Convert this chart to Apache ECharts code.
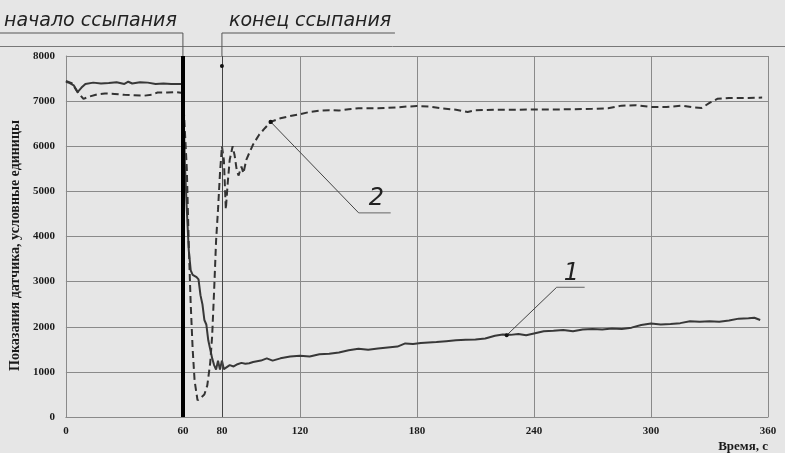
<!DOCTYPE html>
<html><head><meta charset="utf-8">
<script src="https://cdn.jsdelivr.net/npm/echarts@6/dist/echarts.min.js"></script>
<style>html,body{margin:0;padding:0;background:#e6e6e6;}#c{width:785px;height:453px;}</style>
</head><body><div id="c"></div>
<script>
// Time ticks on x axis
const xTicks = [0, 60, 80, 120, 180, 240, 300, 360];
// Curve 1 (solid)
const t1 = [0,2,4,6,8,10,14,18,22,26,30,32,34,38,42,46,50,54,58,60,61,62,63,64,65,66,67,68,69,70,71,72,73,74,75,76,77,78,79,80,81,82,84,86,88,90,92,94,96,100,103,106,110,115,120,125,130,135,140,145,150,155,160,165,170,174,178,182,186,190,195,200,205,210,215,220,224,228,232,236,240,245,250,255,260,265,270,275,280,285,290,295,300,305,310,315,320,325,330,335,340,345,350,353,356];
const v1 = [7430,7400,7350,7200,7300,7380,7410,7390,7400,7420,7380,7430,7390,7420,7410,7380,7390,7380,7380,7380,5600,4600,3700,3250,3150,3180,3100,3050,2700,2500,2150,2050,1700,1500,1300,1150,1050,1250,1050,1250,1060,1100,1150,1120,1170,1200,1180,1190,1220,1250,1300,1250,1300,1340,1360,1340,1390,1400,1430,1480,1510,1490,1520,1540,1560,1630,1620,1640,1650,1660,1680,1700,1710,1720,1740,1800,1830,1820,1840,1810,1850,1900,1910,1930,1900,1940,1950,1940,1960,1950,1980,2040,2070,2050,2060,2080,2120,2110,2120,2110,2140,2180,2190,2200,2150];
// Curve 2 (dashed)
const t2 = [0,3,6,9,12,16,20,25,30,35,40,44,47,52,56,60,61,62,63,64,65,66,67.5,69,71,72.5,74,75,76,77,78,79,80,81,82,83,84,85.5,86.5,87.5,88.5,90,91,92.5,94,96,99,102,105,110,115,120,125,130,135,140,145,150,160,170,175,180,186,193,200,206,210,220,230,240,250,260,270,278,285,292,300,308,316,322,326,330,334,340,350,357];
const v2 = [7450,7400,7200,7050,7100,7150,7170,7160,7140,7130,7120,7140,7190,7190,7200,7180,7150,5500,3800,2500,1500,800,370,420,500,700,1200,1800,2800,3900,4600,5400,6000,5700,4600,5200,5700,6000,5800,5500,5350,5550,5400,5700,5850,6040,6250,6400,6540,6620,6670,6710,6760,6790,6800,6790,6820,6840,6840,6860,6880,6890,6880,6840,6810,6760,6800,6810,6810,6815,6815,6820,6830,6840,6900,6910,6870,6870,6900,6860,6850,6960,7050,7070,7070,7080];
// Event markers
const startT = 60, endT = 80, endDot = 7780;
const pointer2 = [105, 6540], pointer1 = [226, 1811];
const startLabel = 'начало ссыпания', endLabel = 'конец ссыпания';
const yName = 'Показания датчика, условные единицы', xName = 'Время, с';

const chart = echarts.init(document.getElementById('c'), null, {renderer:'canvas'});
const grey = '#8a8a8a';
const lab = {fontFamily:'Liberation Serif', fontWeight:'bold', fontSize:11, color:'#1a1a1a', formatter:(v)=>String(v)};
chart.setOption({
  backgroundColor:'#e6e6e6',
  animation:false,
  grid:{left:64, right:17, top:56, bottom:36},
  xAxis:{type:'value', min:0, max:360, interval:60,
    axisLine:{lineStyle:{color:grey}}, axisTick:{show:false},
    axisLabel:Object.assign({margin:9, customValues:xTicks}, lab),
    splitLine:{lineStyle:{color:grey, width:1}}},
  yAxis:{type:'value', min:0, max:8000, interval:1000,
    axisLine:{show:true, lineStyle:{color:grey}}, axisTick:{show:false},
    axisLabel:Object.assign({margin:11}, lab),
    splitLine:{lineStyle:{color:grey, width:1}},
    name:yName, nameLocation:'middle', nameGap:41,
    nameTextStyle:{fontFamily:'Liberation Serif', fontWeight:'bold', fontSize:14, color:'#1a1a1a', padding:[0,0,0,-18]}},
  series:[
    {type:'line', data:t1.map((t,i)=>[t,v1[i]]), symbol:'none', lineStyle:{color:'#383838', width:2}, z:3,
     markLine:{silent:true, symbol:'none', label:{show:false},
       data:[[{coord:[startT,0], lineStyle:{color:'#000', width:4, type:'solid'}},{coord:[startT,8000]}],
             [{coord:[endT,0], lineStyle:{color:'#444', width:1, type:'solid'}},{coord:[endT,8000]}]]}},
    {type:'line', data:t2.map((t,i)=>[t,v2[i]]), symbol:'none', lineStyle:{color:'#333', width:2, type:[7,4]}, z:3}
  ]
});

const P = (p)=>chart.convertToPixel({gridIndex:0}, p);
const s0 = P([startT,8000]), e0 = P([endT,0]), eDot = P([endT,endDot]);
const p2 = P(pointer2), p1 = P(pointer1);
const topY = 33, sepY = 46.5;
const ln = (x1,y1,x2,y2,c,w)=>({type:'line', shape:{x1,y1,x2,y2}, style:{stroke:c||'#555', lineWidth:w||1}, silent:true, z:10});
const annoFont = {fontFamily:'DejaVu Sans', fontStyle:'italic', fontSize:19, fill:'#222'};
chart.setOption({graphic:[
  ln(0, sepY, 785, sepY, '#777', 1),
  ln(0, topY, s0[0], topY, '#555', 1),
  ln(s0[0], topY, s0[0], s0[1], '#555', 1),
  ln(e0[0], topY, e0[0]+173, topY, '#555', 1),
  ln(e0[0], topY, e0[0], s0[1], '#555', 1),
  {type:'circle', shape:{cx:eDot[0], cy:eDot[1], r:2}, style:{fill:'#111'}, z:11},
  {type:'text', x:4, y:topY-2, style:Object.assign({text:startLabel, textVerticalAlign:'bottom'}, annoFont), z:11},
  {type:'text', x:e0[0]+7, y:topY-2, style:Object.assign({text:endLabel, textVerticalAlign:'bottom'}, annoFont), z:11},
  {type:'circle', shape:{cx:p2[0], cy:p2[1], r:2.2}, style:{fill:'#111'}, z:11},
  ln(p2[0], p2[1], p2[0]+88, p2[1]+91, '#444', 1),
  ln(p2[0]+88, p2[1]+91, p2[0]+120, p2[1]+91, '#666', 1),
  {type:'text', x:p2[0]+98, y:p2[1]+89, style:Object.assign({text:'2', textVerticalAlign:'bottom'}, annoFont, {fontSize:24}), z:11},
  {type:'circle', shape:{cx:p1[0], cy:p1[1], r:2}, style:{fill:'#111'}, z:11},
  ln(p1[0], p1[1], p1[0]+50, p1[1]-48, '#444', 1),
  ln(p1[0]+50, p1[1]-48, p1[0]+78, p1[1]-48, '#666', 1),
  {type:'text', x:p1[0]+57, y:p1[1]-50, style:Object.assign({text:'1', textVerticalAlign:'bottom'}, annoFont, {fontSize:24}), z:11},
  {type:'text', x:768, y:447, style:{text:xName, textAlign:'right', textVerticalAlign:'middle', fontFamily:'Liberation Serif', fontWeight:'bold', fontSize:13, fill:'#1a1a1a'}, z:11}
]});
</script></body></html>
